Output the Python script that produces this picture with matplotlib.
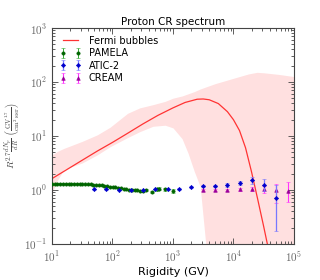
import numpy as np
import matplotlib
matplotlib.use("Agg")
import matplotlib.pyplot as plt
import matplotlib.ticker as ticker

plt.rcParams['mathtext.fontset'] = 'cm'

# Fermi bubbles model curve (rigidity in GV, R^2.7 dN/dR)
fb_R = [10, 17.8, 31.6, 56.2, 100, 178, 316, 562, 1000, 1585, 2512, 3162,
        3981, 5623, 7943, 10000, 12590, 15850, 19950, 25120, 31620, 37150]
fb_val = [1.62, 2.40, 3.55, 5.25, 7.59, 11.2, 16.6, 24.0, 33.1, 41.7, 47.9, 48.4,
          46.8, 39.8, 28.2, 20.0, 12.6, 6.03, 2.14, 0.68, 0.21, 0.089]

# uncertainty band
band_R = [10, 12.6, 15.8, 31.6, 56.2, 91.2, 178, 282, 468, 741, 1000, 1413,
          1778, 2239, 2818, 3548, 5012, 10000, 17780, 24550, 31620, 56230, 100000]
band_lo = [0.89, 1.58, 2.40, 3.16, 4.47, 6.31, 9.33, 12.0, 15.1, 15.8, 14.1, 8.91,
           4.79, 2.24, 1.15, 0.08, 0.05, 0.05, 0.05, 0.05, 0.05, 0.05, 0.05]
band_hi = [4.47, 5.25, 5.89, 7.94, 10.5, 14.5, 26.3, 33.1, 38.0, 43.7, 50.1, 55.0,
           60.3, 66.1, 74.1, 81.3, 93.3, 117, 141, 151, 148, 138, 126]

# PAMELA
pam_R = [10.0, 11.1, 12.3, 13.7, 15.2, 16.9, 18.8, 20.9, 23.2, 25.8, 28.6, 31.8,
         35.3, 39.2, 43.5, 48.3, 53.7, 59.6, 66.2, 73.5, 81.6, 90.7, 101, 112,
         124, 138, 153, 170, 189, 210, 233, 259, 288, 320, 355, 445, 537, 590,
         741, 990]
pam_val = [1.28, 1.29, 1.30, 1.30, 1.31, 1.31, 1.31, 1.31, 1.31, 1.30, 1.30, 1.29,
           1.28, 1.27, 1.26, 1.24, 1.23, 1.22, 1.21, 1.19, 1.17, 1.15, 1.13, 1.11,
           1.09, 1.07, 1.05, 1.03, 1.01, 1.00, 0.99, 0.98, 0.97, 0.97, 0.98, 0.92,
           1.03, 1.05, 1.03, 0.95]
pam_err = [0.02] * 30 + [0.03, 0.03, 0.03, 0.04, 0.04, 0.05, 0.06, 0.06, 0.07, 0.08]

# ATIC-2
atic_R = [50, 79, 126, 200, 316, 500, 813, 1260, 2000, 3160, 5010, 7940,
          12600, 20000, 31600, 50100]
atic_val = [1.02, 1.02, 1.01, 0.98, 0.98, 1.02, 1.03, 1.04, 1.13, 1.19, 1.18, 1.23,
            1.36, 1.50, 1.22, 0.72]
atic_lo = [0.03, 0.03, 0.03, 0.03, 0.03, 0.03, 0.03, 0.04, 0.05, 0.06, 0.07, 0.10,
           0.13, 0.22, 0.28, 0.55]
atic_hi = [0.03, 0.03, 0.03, 0.03, 0.03, 0.03, 0.03, 0.04, 0.05, 0.06, 0.07, 0.10,
           0.13, 0.22, 0.35, 0.52]

# CREAM
cream_R = [3160, 5010, 7940, 12600, 20000, 31600, 50100, 79400]
cream_val = [0.98, 0.98, 1.00, 1.02, 1.03, 1.03, 1.00, 0.97]
cream_lo = [0.04, 0.04, 0.05, 0.06, 0.08, 0.15, 0.42, 0.38]
cream_hi = [0.04, 0.04, 0.05, 0.06, 0.08, 0.15, 0.28, 0.42]

fig = plt.figure(figsize=(3.2, 2.8), dpi=100)
ax = fig.add_axes([0.1625, 0.129, 0.756, 0.771])

ax.fill_between(band_R, band_lo, band_hi, color='#ff9999', alpha=0.3, lw=0, zorder=1)
ax.plot(fb_R, fb_val, color='#ff3333', lw=0.9, label='Fermi bubbles', zorder=2)

ax.errorbar(pam_R, pam_val, yerr=pam_err, fmt='o', ms=2.4, mew=0.4, color='#006400',
            ecolor='#33aa33', elinewidth=0.7, capsize=1.3, label='PAMELA', zorder=3)
ax.errorbar(atic_R, atic_val, yerr=[atic_lo, atic_hi], fmt='D', ms=2.2, mew=0.4,
            color='#0000cc', ecolor='#7777ff', elinewidth=0.9, capsize=1.3,
            label='ATIC-2', zorder=4)
ax.errorbar(cream_R, cream_val, yerr=[cream_lo, cream_hi], fmt='^', ms=2.6, mew=0.4,
            color='#990099', ecolor='#ff33ff', elinewidth=0.8, capsize=1.3,
            label='CREAM', zorder=3)

ax.set_xscale('log')
ax.set_yscale('log')
ax.set_xlim(10, 1e5)
ax.set_ylim(0.1, 1000)

fmt = ticker.FuncFormatter(lambda v, _: r'$10^{%d}$' % int(round(np.log10(v))))
ax.xaxis.set_major_formatter(fmt)
ax.yaxis.set_major_formatter(fmt)
ax.tick_params(which='both', direction='in', top=True, right=True,
               colors='#444444', labelcolor='#666666', labelsize=8, width=0.6)
ax.tick_params(which='major', length=4)
ax.tick_params(which='minor', length=2)
ax.tick_params(axis='x', pad=4)
for s in ax.spines.values():
    s.set_color('#444444')
    s.set_linewidth(0.8)

ax.set_title('Proton CR spectrum', fontsize=7.5, pad=2)
ax.set_xlabel('Rigidity (GV)', fontsize=8, labelpad=2)
ax.set_ylabel(r'$R^{2.7}\frac{dN_p}{dR}\ \left(\frac{\rm GV^{1.7}}{\rm cm^2\,s\,sr}\right)$',
              fontsize=7, color='#444444', labelpad=1)

ax.legend(loc='upper left', fontsize=7, frameon=False, numpoints=2,
          handlelength=2.2, labelspacing=0.25, borderaxespad=0.4)

fig.savefig('out.png', dpi=100)
